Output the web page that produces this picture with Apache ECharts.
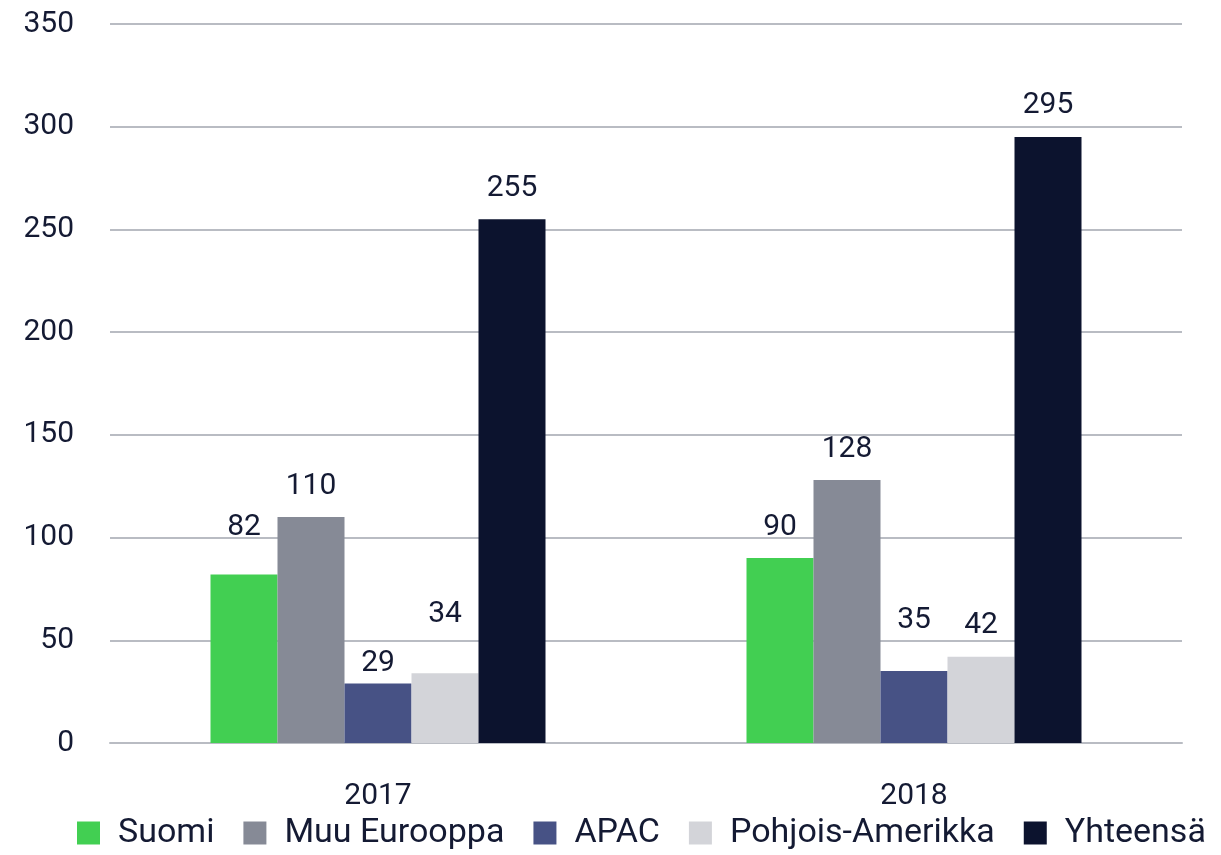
<!DOCTYPE html>
<html>
<head>
<meta charset="utf-8">
<script src="https://cdn.jsdelivr.net/npm/echarts@6/dist/echarts.min.js"></script>
<style>
  html, body { margin: 0; padding: 0; background: #fff; }
  #chart { width: 1221px; height: 855px; }
</style>
</head>
<body>
<div id="chart"></div>
<script>
var years = ['2017', '2018'];
var seriesNames = ['Suomi', 'Muu Eurooppa', 'APAC', 'Pohjois-Amerikka', 'Yhteensä'];
var suomi = [82, 90];
var muuEurooppa = [110, 128];
var apac = [29, 35];
var pohjoisAmerikka = [34, 42];
var yhteensa = [255, 295];

var colors = ['#42cf52', '#868a96', '#475285', '#d3d4d9', '#0c132e'];
var textColor = '#141a33';
var fontFamily = 'Roboto, "Noto Sans", sans-serif';

// label distances as in the original (some labels sit higher)
var labelDist = [
  [32, 16],
  [16, 16],
  [5, 36],
  [44, 16],
  [16, 16]
];

var allData = [suomi, muuEurooppa, apac, pohjoisAmerikka, yhteensa];

const chart = echarts.init(document.getElementById('chart'));

const option = {
  animation: false,
  color: colors,
  textStyle: { fontFamily: fontFamily, color: textColor },
  grid: {
    left: 110,
    right: 39,
    top: 24,
    bottom: 112
  },
  legend: {
    bottom: 0,
    left: 72,
    itemWidth: 23,
    itemHeight: 23,
    itemGap: 29,
    icon: 'rect',
    textStyle: {
      fontSize: 34,
      color: textColor,
      fontFamily: fontFamily,
      padding: [0, 0, 0, 13]
    },
    data: seriesNames
  },
  xAxis: {
    type: 'category',
    data: years,
    axisLine: { lineStyle: { color: '#b9bcc3', width: 2 } },
    axisTick: { show: false },
    axisLabel: { fontSize: 30, color: textColor, margin: 38 }
  },
  yAxis: {
    type: 'value',
    min: 0,
    max: 350,
    interval: 50,
    axisLine: { show: false },
    axisTick: { show: false },
    splitLine: { lineStyle: { color: '#b9bcc3', width: 2 } },
    axisLabel: { fontSize: 30, color: textColor, margin: 36 }
  },
  series: seriesNames.map(function (name, i) {
    return {
      name: name,
      type: 'bar',
      barWidth: 67,
      barGap: '0%',
      data: allData[i].map(function (v, j) {
        return {
          value: v,
          label: { distance: labelDist[i][j] }
        };
      }),
      label: {
        show: true,
        position: 'top',
        fontSize: 30,
        color: textColor
      }
    };
  })
};
chart.setOption(option, true);
</script>
</body>
</html>
